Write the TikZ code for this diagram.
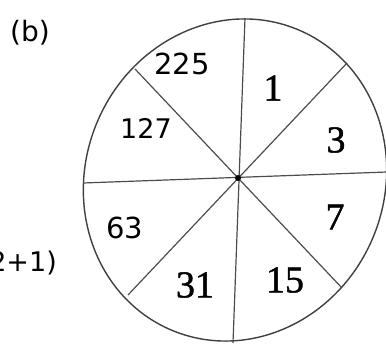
\documentclass[tikz,border=0pt]{standalone}
\usepackage{fontspec}
\newfontfamily\wheelsans{DejaVu Sans}
\newfontfamily\wheelserif[FakeBold=1.2]{Liberation Serif}
\usetikzlibrary{positioning}

\begin{document}
\begin{tikzpicture}[x=1pt, y=-1pt,
  rim/.style={black!75, line width=1.4pt},
  spoke/.style={black!70, line width=1.2pt},
  sanslab/.style={font=\wheelsans\fontsize{29}{34}\selectfont, inner sep=0pt},
  seriflab/.style={font=\wheelserif\fontsize{38}{40}\selectfont, inner sep=0pt}]
  \useasboundingbox (0,0) rectangle (386,345);
  \clip (0,0) rectangle (386,345);
  % the wheel is slightly oval, long axis leaning right
  \draw[rim] (235,180) ellipse[x radius=149.5, y radius=163, rotate=-23];
  % rim ends of the spokes, clockwise from the top
  \coordinate (n)  at (245,18);
  \coordinate (ne) at (347,63);
  \coordinate (e)  at (387,172);
  \coordinate (se) at (342,288);
  \coordinate (s)  at (233,343);
  \coordinate (sw) at (128,295);
  \coordinate (w)  at (83,183);
  \coordinate (nw) at (135,69);
  % spokes through the hub
  \draw[spoke] (n) -- (s);
  \draw[spoke] (w) -- (e);
  \draw[spoke] (ne) -- (sw);
  \draw[spoke] (nw) -- (se);
  \node[circle, fill=black, inner sep=0pt, minimum size=6pt] (hub) at (238,178) {};
  % sector numbers
  \node[sanslab] (v225) at (182,64) {225};
  \node[seriflab] (v1) at (273,88) {1};
  \node[seriflab] (v3) at (336,140) {3};
  \node[seriflab] (v7) at (335,217) {7};
  \node[seriflab] (v15) at (285,280) {15};
  \node[seriflab] (v31) at (195,285) {31};
  \node[sanslab] (v63) at (125,228) {63};
  \node[sanslab, font=\wheelsans\fontsize{27}{32}\selectfont] (v127) at (146,128) {127};
  % panel tag and cut off formula
  \node[sanslab, font=\wheelsans\fontsize{28}{32}\selectfont] (tag) at (30,33) {(b)};
  \node[sanslab, font=\wheelsans\fontsize{27}{32}\selectfont, anchor=east] (frm) at (57,263) {2+1)};
\end{tikzpicture}
\end{document}
